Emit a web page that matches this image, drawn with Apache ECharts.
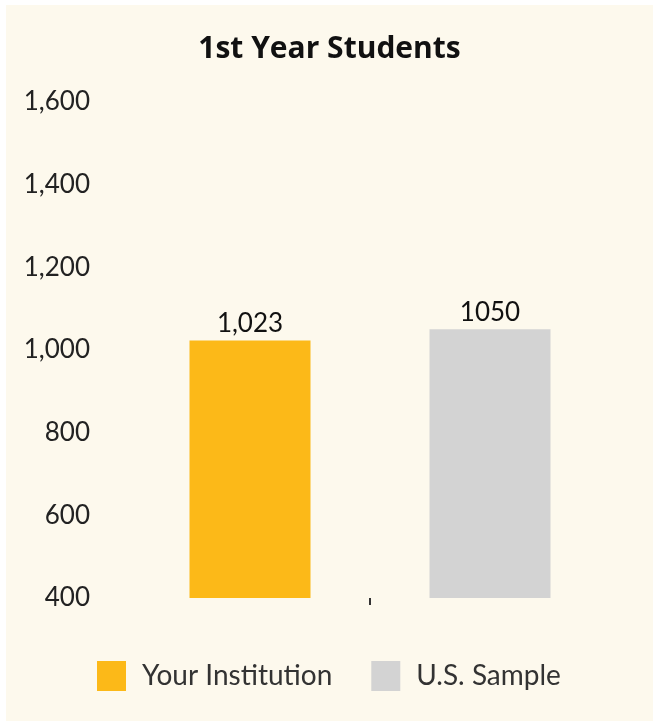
<!DOCTYPE html>
<html>
<head>
<meta charset="utf-8">
<script src="https://cdn.jsdelivr.net/npm/echarts@6/dist/echarts.min.js"></script>
<style>
html,body{margin:0;padding:0;background:#ffffff;overflow:hidden;}
#chart{position:absolute;left:6px;top:5px;width:647px;height:716px;background:#fdf9ed;}
</style>
</head>
<body>
<div id="chart"></div>
<script>
const titleText = '1st Year Students';
const categories = ['Your Institution', 'U.S. Sample'];
const seriesNames = ['Your Institution', 'U.S. Sample'];
const yourInstitution = [1023, '-'];
const usSample = ['-', 1050];
const yTicks = [400, 600, 800, 1000, 1200, 1400, 1600];

const FONT = 'Lato, "Noto Sans", sans-serif';
const chart = echarts.init(document.getElementById('chart'));
const fmt = v => Number(v).toLocaleString('en-US');

chart.setOption({
  backgroundColor: '#fdf9ed',
  animation: false,
  textStyle: { fontFamily: FONT },
  title: {
    text: titleText,
    left: 'center',
    top: 29,
    padding: 0,
    textStyle: { fontFamily: '"Open Sans", sans-serif', fontSize: 30, fontWeight: 'bold', color: '#111111' }
  },
  legend: {
    data: seriesNames,
    left: 91,
    top: 656,
    padding: 0,
    itemWidth: 29,
    itemHeight: 30,
    itemGap: 39,
    icon: 'rect',
    textStyle: { fontFamily: FONT, fontSize: 28, color: '#333333', padding: [0, 0, 0, 11] }
  },
  grid: { left: 124, right: 43, top: 97, bottom: 123, containLabel: false },
  xAxis: [
    {
      type: 'category',
      data: categories,
      axisLine: { show: false },
      axisLabel: { show: false },
      axisTick: { show: false },
      splitLine: { show: false }
    },
    {
      type: 'value',
      position: 'bottom',
      min: 0,
      max: 2,
      axisLine: { show: false },
      axisLabel: { show: false },
      splitLine: { show: false },
      axisTick: {
        show: true,
        length: 7,
        customValues: [1],
        lineStyle: { color: '#333333', width: 2 }
      }
    }
  ],
  yAxis: {
    type: 'value',
    min: yTicks[0],
    max: yTicks[yTicks.length - 1],
    interval: 200,
    axisLine: { show: false },
    axisTick: { show: false },
    splitLine: { show: false },
    axisLabel: {
      margin: 40,
      fontFamily: FONT,
      fontSize: 26,
      color: '#222222',
      formatter: v => fmt(v)
    }
  },
  series: [
    {
      name: seriesNames[0],
      type: 'bar',
      stack: 'one',
      xAxisIndex: 0,
      barWidth: 121,
      data: yourInstitution,
      itemStyle: { color: '#fcb918' },
      label: {
        show: true, position: 'top', distance: 4,
        fontFamily: FONT, fontSize: 26, color: '#111111',
        formatter: p => fmt(p.value)
      }
    },
    {
      name: seriesNames[1],
      type: 'bar',
      stack: 'one',
      xAxisIndex: 0,
      barWidth: 121,
      data: usSample,
      itemStyle: { color: '#d3d3d3' },
      label: {
        show: true, position: 'top', distance: 4,
        fontFamily: FONT, fontSize: 26, color: '#111111',
        formatter: p => String(p.value)
      }
    }
  ]
});
</script>
</body>
</html>
